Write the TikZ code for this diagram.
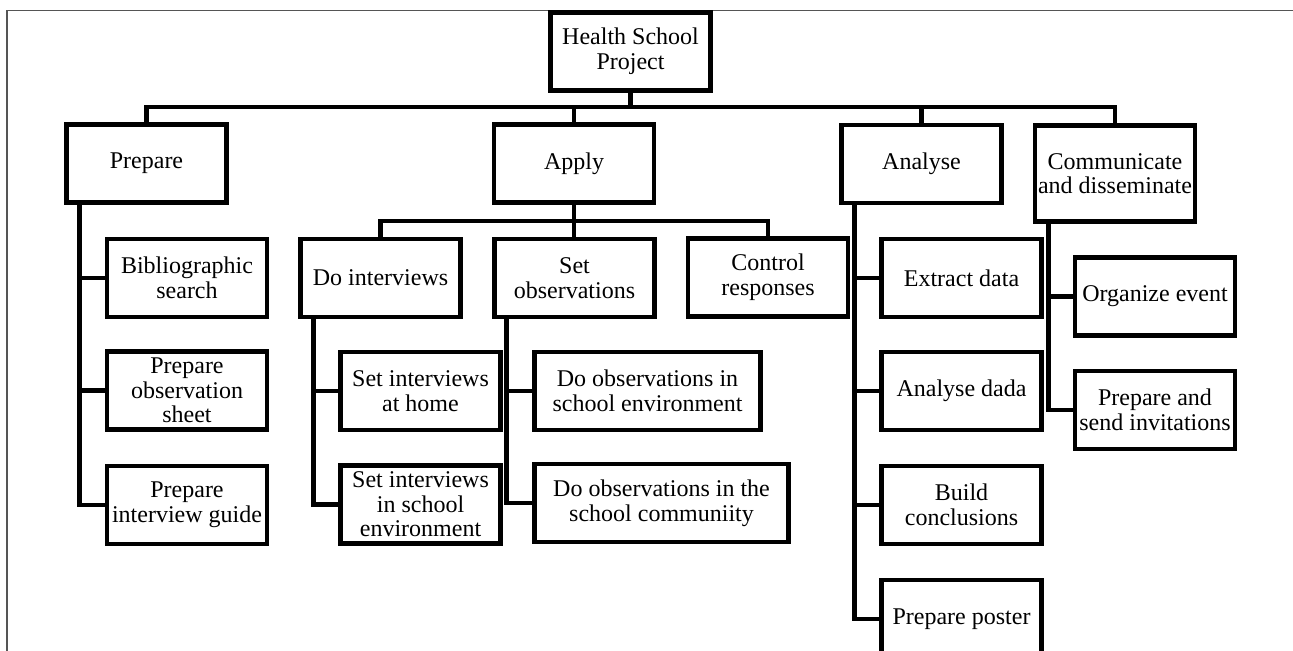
\documentclass[tikz,border=0pt]{standalone}
\usepackage{fontspec}
\setmainfont{Liberation Serif}
\usepackage{tikz}
\definecolor{framegray}{RGB}{85,85,85}

\begin{document}
\begin{tikzpicture}[x=0.5pt,y=-0.5pt,
		task/.style={draw,line width=2.4pt,align=center,inner sep=0pt,minimum width=80pt,minimum height=39pt,font=\fontsize{12}{12.3}\selectfont},
		link/.style={line width=2.4pt}]
			\useasboundingbox (0,0) rectangle (1293,650);
			\draw[framegray,line width=0.6pt] (7,10.5) rectangle (1320,680);

			\coordinate (bus) at (630.5,107);
			\coordinate (subbus) at (574,221);

			\node[task] (root) at (630.5,51.5) {Health School\\Project};

			\node[task] (prep) at (146.5,163.5) {Prepare};
			\node[task] (apply) at (574,163.5) {Apply};
			\node[task] (analyse) at (921.5,164) {Analyse};
			\node[task,minimum height=48.25pt] (comm) at (1115,173.5) {Communicate\\and disseminate};

			\node[task] (bib) at (187,278) {Bibliographic\\search};
			\node[task] (obssheet) at (187,390.5) {Prepare\\observation\\sheet};
			\node[task] (guide) at (187,505) {Prepare\\interview guide};

			\node[task] (doint) at (380.5,278) {Do interviews};
			\node[task] (setobs) at (574.5,278) {Set\\observations};
			\node[task] (control) at (768,277.5) {Control\\responses};
			\node[task] (inthome) at (420.5,391) {Set interviews\\at home};
			\node[task] (intschool) at (420.5,504.5) {Set interviews\\in school\\environment};
			\node[task,minimum width=113.25pt] (obsschool) at (647.5,391) {Do observations in\\school environment};
			\node[task,minimum width=127.25pt] (obscomm) at (661.5,503) {Do observations in the\\school communiity};

			\node[task] (extract) at (961.5,278) {Extract data};
			\node[task] (dada) at (961.5,391) {Analyse dada};
			\node[task] (build) at (961.5,505) {Build\\conclusions};
			\node[task] (poster) at (961.5,619) {Prepare poster};

			\node[task] (organize) at (1155,296.5) {Organize event};
			\node[task] (invite) at (1155,410) {Prepare and\\send invitations};

			\draw[link] (root.south) -- (bus);
			\draw[link] (prep.north) |- (bus) -| (comm.north);
			\draw[link] (apply.north) -- (apply.north |- bus);
			\draw[link] (analyse.north) -- (analyse.north |- bus);

			\draw[link] (doint.north) |- (subbus) -| (control.north);
			\draw[link] (apply.south) -- (apply.south |- setobs.north);

			\foreach \c in {bib,obssheet,guide}
				\draw[link] ([shift={(15.5,0)}]prep.south west) |- (\c.west);
			\foreach \c in {inthome,intschool}
				\draw[link] ([shift={(15.5,0)}]doint.south west) |- (\c.west);
			\foreach \c in {obsschool,obscomm}
				\draw[link] ([shift={(14,0)}]setobs.south west) |- (\c.west);
			\foreach \c in {extract,dada,build,poster}
				\draw[link] ([shift={(15,0)}]analyse.south west) |- (\c.west);
			\foreach \c in {organize,invite}
				\draw[link] ([shift={(15.5,0)}]comm.south west) |- (\c.west);
		\end{tikzpicture}
\end{document}
